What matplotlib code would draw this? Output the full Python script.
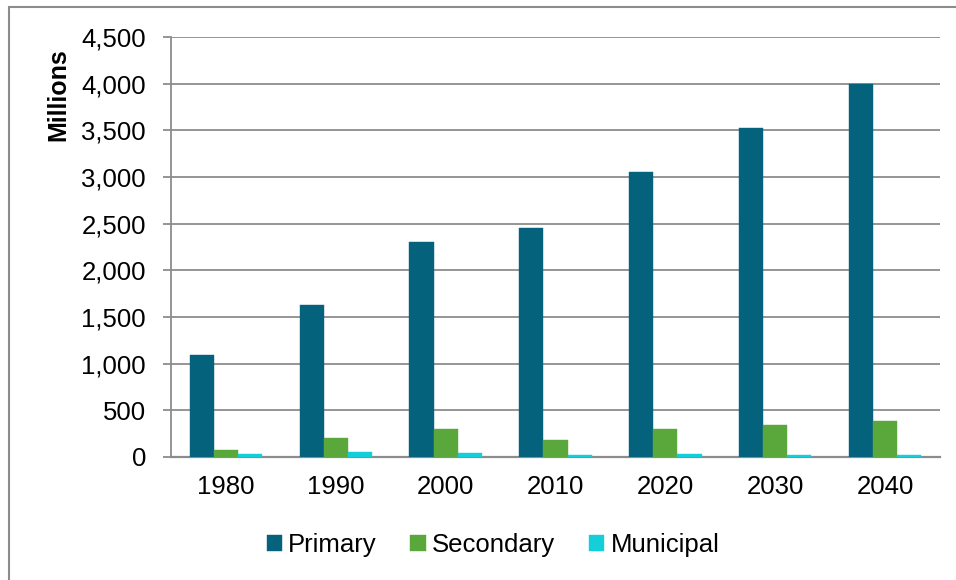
import matplotlib
matplotlib.use("Agg")
import matplotlib.pyplot as plt
import numpy as np
from matplotlib.ticker import FuncFormatter
from matplotlib.patches import Rectangle

years = ["1980", "1990", "2000", "2010", "2020", "2030", "2040"]
primary = [1095, 1625, 2305, 2450, 3050, 3530, 4000]
secondary = [70, 200, 295, 180, 295, 340, 385]
municipal = [30, 50, 40, 25, 30, 25, 20]
series_names = ["Primary", "Secondary", "Municipal"]
colors = ["#05627D", "#5AA83C", "#14CFD9"]

plt.rcParams['font.family'] = ['Liberation Sans', 'DejaVu Sans']

W, H = 956, 580
fig = plt.figure(figsize=(W / 100, H / 100), dpi=100)
ax = fig.add_axes([171 / W, (H - 457) / H, (940 - 171) / W, 420 / H])

x = np.arange(len(years))
bw = 0.22
for i, (vals, name, c) in enumerate(zip([primary, secondary, municipal], series_names, colors)):
    ax.bar(x + (i - 1) * bw, vals, width=bw, color=c, label=name, zorder=3,
           edgecolor=c, linewidth=0.3)

ax.set_xlim(-0.5, len(years) - 0.5)
ax.set_ylim(0, 4500)
ax.set_yticks(np.arange(0, 4501, 500))
ax.yaxis.set_major_formatter(FuncFormatter(lambda v, p: f"{int(v):,}"))
ax.set_xticks(x)
ax.set_xticklabels(years)
ax.grid(axis='y', color='#8C8C8C', linewidth=1.3, zorder=0)
ax.set_axisbelow(True)
for s in ['top', 'right']:
    ax.spines[s].set_visible(False)
ax.spines['left'].set_color('#8C8C8C')
ax.spines['left'].set_linewidth(1.3)
ax.spines['bottom'].set_color('#8C8C8C')
ax.spines['bottom'].set_linewidth(1.6)
ax.tick_params(axis='y', length=6, width=1.3, color='#8C8C8C', pad=12, labelsize=18.5)
ax.tick_params(axis='x', length=0, pad=13, labelsize=18.5)

fig.text(58 / W, 1 - 95 / H, "Millions", rotation=90, fontsize=18, fontweight='bold',
         ha='center', va='center')

fig.legend(loc='center', bbox_to_anchor=(493 / W, 1 - 545 / H), ncol=3, frameon=False,
           fontsize=18.5, handlelength=0.6, handleheight=0.6, handletextpad=0.25,
           columnspacing=1.3)

fig.patches.append(Rectangle((8.5 / W, -0.05), 1.0, 1.05 - 7 / H,
                             transform=fig.transFigure, fill=False,
                             edgecolor='#8C8C8C', linewidth=1.5, clip_on=False))

fig.savefig("out.png", dpi=100)
